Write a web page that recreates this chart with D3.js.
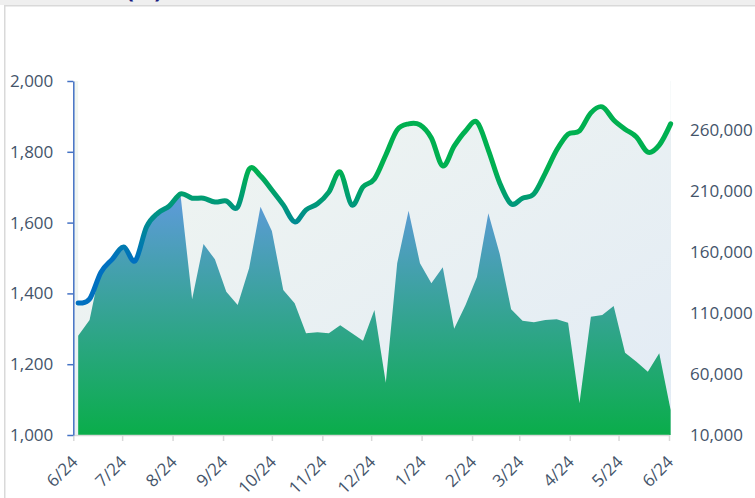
<!DOCTYPE html>
<html>
<head>
<meta charset="utf-8">
<script src="https://cdn.jsdelivr.net/npm/d3@7"></script>
<style>
  body { margin: 0; background: #fff; }
  svg { display: block; }
  text { font-family: "Open Sans", "DejaVu Sans", sans-serif; }
</style>
</head>
<body>
<svg id="chart" width="755" height="498"></svg>
<script>
// data: weekly dates, price line (left axis), volume area (right axis)
let dates = [
  "2023-06-27","2023-07-04","2023-07-11","2023-07-18","2023-07-25","2023-08-01","2023-08-08",
  "2023-08-15","2023-08-22","2023-08-29","2023-09-05","2023-09-12","2023-09-19","2023-09-26",
  "2023-10-03","2023-10-10","2023-10-17","2023-10-24","2023-10-31","2023-11-07","2023-11-14",
  "2023-11-21","2023-11-28","2023-12-05","2023-12-12","2023-12-19","2023-12-26","2024-01-02",
  "2024-01-09","2024-01-16","2024-01-23","2024-01-30","2024-02-06","2024-02-13","2024-02-20",
  "2024-02-27","2024-03-05","2024-03-12","2024-03-19","2024-03-26","2024-04-02","2024-04-09",
  "2024-04-16","2024-04-23","2024-04-30","2024-05-07","2024-05-14","2024-05-21","2024-05-28",
  "2024-06-04","2024-06-11","2024-06-18","2024-06-25"
]
let lineValues = [
  1373, 1384, 1460, 1497, 1531, 1492, 1588, 1627, 1647, 1681, 1669, 1669, 1658, 1661,
  1644, 1751, 1732, 1692, 1650, 1602, 1636, 1653, 1686, 1743, 1650, 1701, 1723, 1791,
  1862, 1879, 1876, 1839, 1760, 1816, 1859, 1884, 1805, 1712, 1653, 1669, 1681, 1740,
  1805, 1850, 1859, 1910, 1927, 1890, 1864, 1842, 1799, 1819, 1879
]
let areaValues = [
  91300, 104200, 149300, 161600, 171400, 167300, 186100, 198400, 204200, 205200, 121200,
  166500, 153900, 127400, 116500, 146600, 197000, 177100, 128800, 117900, 93300, 94100,
  93300, 99900, 93600, 87300, 112400, 52800, 150700, 193700, 150700, 134300, 147400,
  97100, 116500, 139400, 191600, 158300, 113000, 103600, 102300, 104200, 104800, 102000,
  36000, 106900, 108300, 115700, 77400, 70000, 61900, 76900, 30500
]
let leftTicks = [1000, 1200, 1400, 1600, 1800, 2000]
let rightTicks = [10000, 60000, 110000, 160000, 210000, 260000]
let monthTicks = [
  "2023-06-24","2023-07-24","2023-08-24","2023-09-24","2023-10-24","2023-11-24","2023-12-24",
  "2024-01-24","2024-02-24","2024-03-24","2024-04-24","2024-05-24","2024-06-24"
]

let parse = d3.timeParse("%Y-%m-%d")
let rows = dates.map((d, i) => ({date: parse(d), line: lineValues[i], area: areaValues[i]}))

let svg = d3.select('#chart')

// chart frame
svg.append('rect').attr('x', 0).attr('y', 0).attr('width', 755).attr('height', 5).style('fill', '#efefef')
svg.append('rect')
  .attr('x', 4.75).attr('y', 5.75).attr('width', 800).attr('height', 600)
  .style('fill', '#fff').style('stroke', '#d9d9d9').style('stroke-width', 1.5)

// cut off title
svg.append('text')
  .attr('x', 126).attr('y', -2.5)
  .attr('font-size', '23px').attr('font-weight', 'bold')
  .style('fill', '#1a1a7e')
  .text('(%)')

let plotLeft = 73.3, plotRight = 669, plotTop = 81, plotBottom = 435

let x = d3.scaleTime().domain([parse(monthTicks[0]), parse(monthTicks[monthTicks.length - 1])]).range([plotLeft, plotRight])
let yL = d3.scaleLinear().domain([1000, 2000]).range([plotBottom, plotTop])
let yR = d3.scaleLinear().domain([10000, 300000]).range([plotBottom, plotTop])

// gradients
let defs = svg.append('defs')
let bg = defs.append('linearGradient').attr('id', 'bgGrad')
  .attr('x1', 0).attr('y1', 0).attr('x2', 1).attr('y2', 1)
bg.append('stop').attr('offset', '0%').attr('stop-color', '#f1f6f0')
bg.append('stop').attr('offset', '100%').attr('stop-color', '#e2ebf5')

let ag = defs.append('linearGradient').attr('id', 'areaGrad')
  .attr('gradientUnits', 'userSpaceOnUse')
  .attr('x1', 0).attr('y1', 205).attr('x2', 0).attr('y2', plotBottom)
ag.append('stop').attr('offset', '0%').attr('stop-color', '#5b9bd5')
ag.append('stop').attr('offset', '100%').attr('stop-color', '#0aad4a')

let lg = defs.append('linearGradient').attr('id', 'lineGrad')
  .attr('gradientUnits', 'userSpaceOnUse')
  .attr('x1', 0).attr('y1', 260).attr('x2', 0).attr('y2', 170)
lg.append('stop').attr('offset', '0%').attr('stop-color', '#0070c0')
lg.append('stop').attr('offset', '100%').attr('stop-color', '#00b050')

// plot background
svg.append('rect')
  .attr('x', plotLeft).attr('y', plotTop)
  .attr('width', plotRight + 2 - plotLeft).attr('height', plotBottom - plotTop)
  .style('fill', 'url(#bgGrad)')

// volume area (right axis)
let area = d3.area()
  .x(d => x(d.date))
  .y0(plotBottom)
  .y1(d => yR(d.area))

svg.append('path')
  .datum(rows)
  .attr('d', area)
  .style('fill', 'url(#areaGrad)')

let smooth = d3.curveCardinal.tension(0)

// white cover above the line
let cover = d3.area()
  .curve(smooth)
  .x(d => x(d.date))
  .y0(plotTop)
  .y1(d => yL(d.line))

svg.append('path')
  .datum(rows)
  .attr('d', cover)
  .style('fill', '#fff')

// price line (left axis)
let line = d3.line()
  .curve(smooth)
  .x(d => x(d.date))
  .y(d => yL(d.line))

svg.append('path')
  .datum(rows)
  .attr('d', line)
  .style('fill', 'none')
  .style('stroke', 'url(#lineGrad)')
  .style('stroke-width', 5)
  .style('stroke-linecap', 'round')
  .style('stroke-linejoin', 'round')

// axes
let gx = svg.append('g')
  .attr('transform', `translate(0, ${plotBottom})`)
  .call(d3.axisBottom(x)
    .tickValues(monthTicks.map(parse))
    .tickFormat(d3.timeFormat('%-m/%-d'))
    .tickSize(6).tickSizeOuter(0))
gx.select('.domain').style('stroke', '#d9d9d9').style('stroke-width', 1.5)
gx.selectAll('.tick line').style('stroke', '#d9d9d9').style('stroke-width', 1.5)
gx.selectAll('.tick text')
  .attr('font-size', '17px')
  .style('fill', '#44546a')
  .attr('text-anchor', 'end')
  .attr('y', 0).attr('dy', 0)
  .attr('transform', 'translate(5, 28) rotate(-45)')

let gl = svg.append('g')
  .attr('transform', `translate(${plotLeft}, 0)`)
  .call(d3.axisLeft(yL)
    .tickValues(leftTicks)
    .tickFormat(d3.format(','))
    .tickSize(6).tickSizeOuter(0).tickPadding(14))
gl.select('.domain').style('stroke', '#4472c4').style('stroke-width', 1.5)
gl.selectAll('.tick line').style('stroke', '#4472c4').style('stroke-width', 1.5)
gl.selectAll('.tick text').attr('font-size', '17px').style('fill', '#44546a')

let gr = svg.append('g')
  .attr('transform', `translate(${plotRight + 2}, 0)`)
  .call(d3.axisRight(yR)
    .tickValues(rightTicks)
    .tickFormat(d3.format(','))
    .tickSize(0).tickPadding(19))
gr.select('.domain').remove()
gr.selectAll('.tick text').attr('font-size', '17px').style('fill', '#44546a')
</script>
</body>
</html>
